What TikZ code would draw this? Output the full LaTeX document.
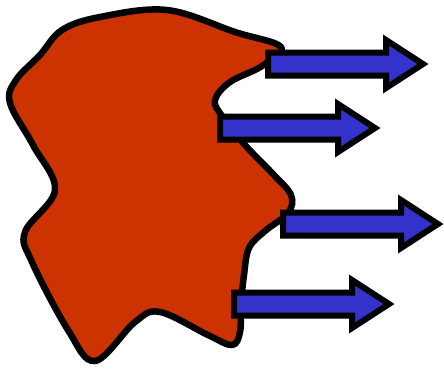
\documentclass[tikz,border=0pt]{standalone}
\definecolor{blobred}{HTML}{CC3300}
\definecolor{arrowblue}{HTML}{3333CC}
\tikzset{
  blob/.style={draw=black, line width=6.5pt, fill=blobred, line join=round},
  fatarrow/.style={draw=black, line width=6pt, fill=arrowblue, line join=miter, miter limit=10}
}
\newcommand\fatarr[3]{% name, left x, center y
  \path[fatarrow] (#2,#3-11.5) -- (#2+118,#3-11.5) -- (#2+118,#3-24) -- (#2+155,#3)
    -- (#2+118,#3+24) -- (#2+118,#3+11.5) -- (#2,#3+11.5) -- cycle;
  \coordinate (#1) at (#2,#3);
}
\begin{document}
\begin{tikzpicture}[x=1pt,y=-1pt]
\useasboundingbox (0,0) rectangle (444,368);
\draw[blob] plot[smooth cycle, tension=0.6] coordinates {
  (167,10) (235,32) (281,47) (262,66) (230,82) (215,100) (222,116)
  (245,145) (272,173) (291,195) (288,213) (265,231) (249,248)
  (244,275) (241,305) (240,332) (232,345) (208,335) (160,312)
  (135,322) (95,361) (68,330) (32,262) (25,232) (55,190)
  (33,145) (10,103) (16,80) (40,55) (62,30) (100,17)
};
\fatarr{a1}{268}{64}
\fatarr{a2}{220}{128}
\fatarr{a3}{283}{224}
\fatarr{a4}{234}{304}
\end{tikzpicture}
\end{document}
